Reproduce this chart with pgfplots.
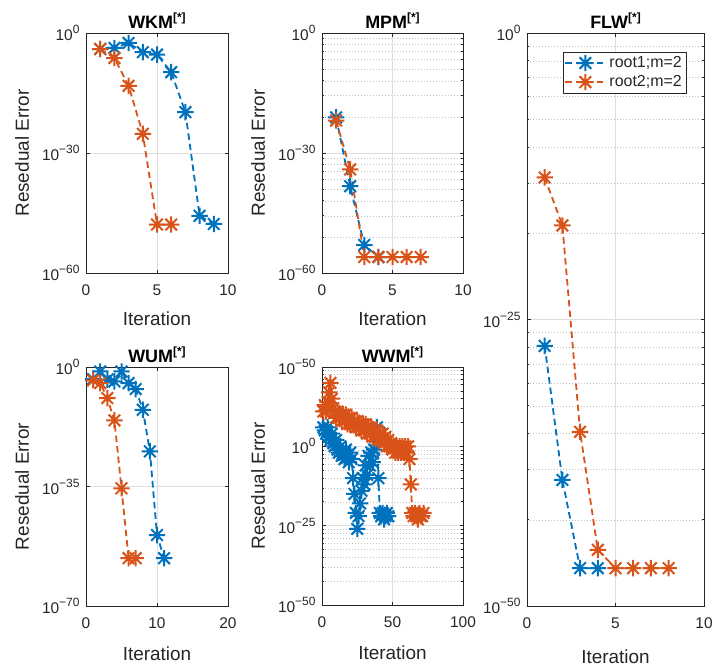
\documentclass[border=0pt]{standalone}
\usepackage{pgfplots}
\pgfplotsset{compat=1.18}
\usepackage{fontspec}
\setmainfont{Liberation Sans}
\definecolor{mblue}{rgb}{0,0.447,0.741}
\definecolor{morange}{rgb}{0.85,0.325,0.098}
\definecolor{axgray}{rgb}{0.15,0.15,0.15}
\definecolor{gridgray}{rgb}{0.87,0.87,0.87}
\definecolor{minorgray}{rgb}{0.75,0.75,0.75}

\pgfdeclareplotmark{mstar}{%
  \pgfpathmoveto{\pgfqpoint{-\pgfplotmarksize}{0pt}}%
  \pgfpathlineto{\pgfqpoint{\pgfplotmarksize}{0pt}}%
  \pgfpathmoveto{\pgfqpoint{0pt}{-\pgfplotmarksize}}%
  \pgfpathlineto{\pgfqpoint{0pt}{\pgfplotmarksize}}%
  \pgfpathmoveto{\pgfqpoint{-0.7071\pgfplotmarksize}{-0.7071\pgfplotmarksize}}%
  \pgfpathlineto{\pgfqpoint{0.7071\pgfplotmarksize}{0.7071\pgfplotmarksize}}%
  \pgfpathmoveto{\pgfqpoint{-0.7071\pgfplotmarksize}{0.7071\pgfplotmarksize}}%
  \pgfpathlineto{\pgfqpoint{0.7071\pgfplotmarksize}{-0.7071\pgfplotmarksize}}%
  \pgfusepathqstroke
}

\newcommand\tk[1]{10\raisebox{7bp}{\fontsize{12}{12}\selectfont #1}}
\newcommand\ttl[1]{#1\raisebox{7bp}{\fontsize{12}{12}\selectfont [*]}}

\pgfplotsset{
  scale only axis, clip=false,
  axis line style={axgray, line width=0.6bp},
  every tick/.style={axgray, line width=0.6bp},
  major tick length=3.5bp, minor tick length=2bp,
  tick align=inside,
  xmajorgrids=true, ymajorgrids=true,
  major grid style={gridgray, line width=0.5bp},
  minor grid style={minorgray, line width=0.5bp, dash pattern=on 0.8bp off 2.2bp},
  tick label style={font=\fontsize{15.5}{16}\selectfont, text=axgray},
  every axis title/.style={at={(0.5,1)}, anchor=base, yshift=5bp, inner sep=0pt,
     font=\bfseries\fontsize{18}{19}\selectfont},
  xticklabel style={yshift=-8.5bp},
  yticklabel style={xshift=-3bp},
  every axis y label/.style={at={(axis description cs:0,0.5)}, xshift=-64bp, rotate=90, anchor=center, inner sep=0pt,
     font=\fontsize{19}{20}\selectfont, text=axgray},
  myxlab/.style={every axis x label/.style={at={(axis description cs:0.5,0)}, anchor=base, yshift=#1, inner sep=0pt,
     font=\fontsize{19}{20}\selectfont, text=axgray}},
  ser1/.style={mblue, line width=1.8bp, dash pattern=on 6.5bp off 4bp, mark=mstar, mark size=8.2bp, mark options={solid, line width=2bp}},
  ser2/.style={morange, line width=1.8bp, dash pattern=on 6.5bp off 4bp, mark=mstar, mark size=8.2bp, mark options={solid, line width=2bp}},
}

\begin{document}
\begin{tikzpicture}
\path[use as bounding box] (0bp,0bp) rectangle (713bp,-666bp);

% WKM
\begin{axis}[ymode=log, myxlab=-52bp, at={(86bp,-33bp)}, anchor=north west, width=142bp, height=240bp,
  xmin=0, xmax=10, ymin=1e-60, ymax=1, xtick={0,5,10}, xticklabels={0,5,10},
  ytick={1e-60,1e-30,1}, yticklabels={\tk{−60},\tk{−30},\tk{0}},
  title={\ttl{WKM}}, xlabel={Iteration}, ylabel={Resedual Error}]
\addplot[ser1] coordinates {(1,1e-4) (2,1.8e-4) (3,3.2e-3) (4,1.6e-5) (5,4e-6) (6,1.6e-10) (7,1.6e-20) (8,2e-46) (9,1.8e-48)};
\addplot[ser2] coordinates {(1,1e-4) (2,5.6e-7) (3,6.3e-14) (4,6.3e-26) (5,1.3e-48) (6,1.3e-48)};
\end{axis}

% MPM
\begin{axis}[ymode=log, myxlab=-52bp, at={(322bp,-33bp)}, anchor=north west, width=141bp, height=240bp,
  xmin=0, xmax=10, ymin=1e-60, ymax=1, xtick={0,5,10}, xticklabels={0,5,10},
  ytick={1e-60,1e-30,1}, yticklabels={\tk{−60},\tk{−30},\tk{0}},
  yminorgrids=true,
  minor ytick={1.0737e-21,2.0589e-16,1.1529e-12,9.3132e-10,2.2107e-7,2.2539e-5,1.2379e-3,4.2391e-2,
               1.0737e-51,2.0589e-46,1.1529e-42,9.3132e-40,2.2107e-37,2.2539e-35,1.2379e-33,4.2391e-32},
  title={\ttl{MPM}}, xlabel={Iteration}, ylabel={Resedual Error}]
\addplot[ser1] coordinates {(1,8e-22) (2,5e-39) (3,1e-53) (4,1e-56)};
\addplot[ser2] coordinates {(1,1.3e-22) (2,8e-35) (3,1e-56) (4,1e-56) (5,1e-56) (6,1e-56) (7,1e-56)};
\end{axis}

% WUM
\begin{axis}[ymode=log, myxlab=-54bp, at={(86bp,-367bp)}, anchor=north west, width=142bp, height=239bp,
  xmin=0, xmax=20, ymin=1e-70, ymax=1, xtick={0,10,20}, xticklabels={0,10,20},
  ytick={1e-70,1e-35,1}, yticklabels={\tk{−70},\tk{−35},\tk{0}},
  title={\ttl{WUM}}, xlabel={Iteration}, ylabel={Resedual Error}]
\addplot[ser1] coordinates {(1,3e-4) (2,5e-2) (3,2e-4) (4,6e-5) (5,5e-2) (6,2e-5) (7,3.5e-7) (8,3e-13) (9,2e-25) (10,6e-50) (11,1e-56)};
\addplot[ser2] coordinates {(1,1.3e-4) (2,2e-5) (3,8e-10) (4,2.5e-16) (5,3e-36) (6,1e-56) (7,1e-56)};
\end{axis}

% WWM
\begin{axis}[ymode=log, myxlab=-54bp, at={(322bp,-367bp)}, anchor=north west, width=141bp, height=238bp,
  xmin=0, xmax=100, ymin=1e-50, ymax=1e25, xtick={0,50,100}, xticklabels={0,50,100},
  ytick={1e-50,1e-25,1,1e25}, yticklabels={\tk{−50},\tk{−25},\tk{0},\tk{−50}},
  yminorgrids=true,
  minor ytick={3.355e7,8.473e11,1.126e15,2.980e17,2.843e19,1.341e21,3.778e22,7.179e23,
               3.355e-18,8.473e-14,1.126e-10,2.980e-8,2.843e-6,1.341e-4,3.778e-3,7.179e-2,
               3.355e-43,8.473e-39,1.126e-35,2.980e-33,2.843e-31,1.341e-29,3.778e-28,7.179e-27},
  title={\ttl{WWM}}, xlabel={Iteration}, ylabel={Resedual Error}]
\addplot[ser1] coordinates {(1,1e6) (2,1e5) (3,1e4) (4,1e6) (5,1e3) (6,1e2) (7,1e4) (8,1e1) (9,1) (10,1e2) (11,1e-1) (12,1e-2) (13,1) (14,1e-3) (15,1e-2) (16,1e-4) (17,1e-1) (18,1e-3) (19,1e-5) (20,1e-2) (21,1e-4) (22,1e-10) (23,1e-15) (24,1e-21) (25,1e-26) (26,1e-22) (27,1e-18) (28,1e-14) (29,1e-10) (30,1e-12) (31,1e-6) (32,1e-9) (33,1e-3) (34,1e-6) (35,1e-2) (36,1e-5) (37,1e-1) (38,1e3) (39,1e6) (40,1e-10) (41,1e-21) (42,1e-22) (43,1e-21) (44,1e-23) (45,1e-22) (46,1e-21) (47,1e-22)};
\addplot[ser2] coordinates {(1,1e11) (2,1e13) (3,1e11) (4,1e14) (5,1e17) (6,1e20) (7,1e15) (8,1e12) (9,1e11) (10,1e9) (11,1e11) (12,1e9) (13,1e10) (14,1e8) (15,1e10) (16,1e8) (17,1e10) (18,1e7) (19,1e9) (20,1e7) (21,1e9) (22,1e7) (23,1e8) (24,1e6) (25,1e8) (26,1e6) (27,1e7) (28,1e5) (29,1e7) (30,1e5) (31,1e7) (32,1e4) (33,1e6) (34,1e4) (35,1e6) (36,1e3) (37,1e5) (38,1e3) (39,1e5) (40,1e2) (41,1e4) (42,1e2) (43,1e4) (44,1e1) (45,1e3) (46,1) (47,1e2) (48,1) (49,1e1) (50,1e-1) (51,1) (52,1e-2) (53,1) (54,1e-2) (55,1) (56,1e-2) (57,1) (58,1e-2) (59,1) (60,1e-2) (61,1) (62,1e-4) (63,1e-12) (64,1e-21) (65,1e-22) (66,1e-21) (67,1e-22) (68,1e-23) (69,1e-21) (70,1e-22) (71,1e-22) (72,1e-21)};
\end{axis}

% FLW
\begin{axis}[ymode=log, myxlab=-57bp, at={(527bp,-33bp)}, anchor=north west, width=177bp, height=573bp,
  xmin=0, xmax=10, ymin=1e-50, ymax=1, xtick={0,5,10}, xticklabels={0,5,10},
  ytick={1e-50,1e-25,1}, yticklabels={\tk{−50},\tk{−25},\tk{0}},
  yminorgrids=true,
  minor ytick={3.355e-18,8.473e-14,1.126e-10,2.980e-8,2.843e-6,1.341e-4,3.778e-3,7.179e-2,
               3.355e-43,8.473e-39,1.126e-35,2.980e-33,2.843e-31,1.341e-29,3.778e-28,7.179e-27},
  title={\ttl{FLW}}, xlabel={Iteration},
  legend cell align=left,
  legend style={at={(axis description cs:1,1)}, anchor=north east, xshift=-17.3bp, yshift=-18.7bp,
    draw=axgray, line width=0.6bp, font=\fontsize{16}{17}\selectfont, text=axgray,
    inner sep=1.5bp, nodes={inner sep=3.2bp}},
  legend image code/.code={\draw[mark repeat=2,mark phase=2,#1] plot coordinates {(0bp,0bp) (20bp,0bp) (40bp,0bp)};}]
\addplot[ser1] coordinates {(1,5e-28) (2,1e-39) (3,2e-47) (4,2e-47)};
\addlegendentry{root1;m=2}
\addplot[ser2] coordinates {(1,2.5e-13) (2,1.6e-17) (3,1.6e-35) (4,8e-46) (5,2e-47) (6,2e-47) (7,2e-47) (8,2e-47)};
\addlegendentry{root2;m=2}
\end{axis}
\end{tikzpicture}
\end{document}
